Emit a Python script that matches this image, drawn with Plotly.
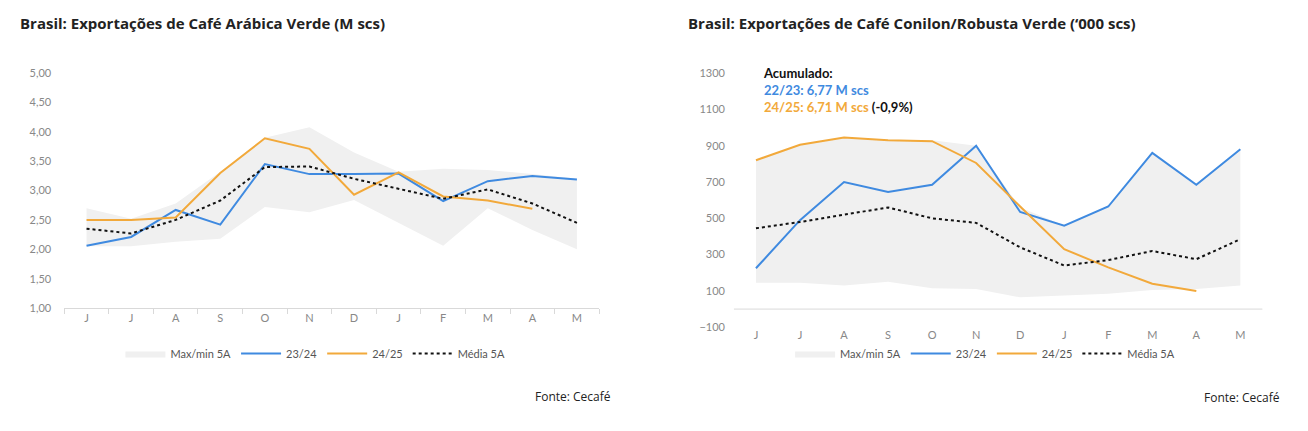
import plotly.graph_objects as go

months = ["J", "J ", "A", "S", "O", "N", "D", "J  ", "F", "M", "A ", "M "]
month_labels = ["J", "J", "A", "S", "O", "N", "D", "J", "F", "M", "A", "M"]

ara_max = [2.70, 2.52, 2.78, 3.32, 3.90, 4.08, 3.65, 3.32, 3.37, 3.35, 3.28, 3.20]
ara_min = [2.05, 2.05, 2.13, 2.18, 2.72, 2.63, 2.84, 2.45, 2.06, 2.70, 2.33, 2.00]
ara_2324 = [2.06, 2.21, 2.67, 2.42, 3.45, 3.28, 3.28, 3.29, 2.82, 3.16, 3.25, 3.19]
ara_2425 = [2.50, 2.50, 2.54, 3.30, 3.89, 3.71, 2.93, 3.31, 2.90, 2.83, 2.69]
ara_media = [2.35, 2.27, 2.50, 2.83, 3.40, 3.41, 3.20, 3.03, 2.86, 3.02, 2.78, 2.45]

rob_max = [820, 905, 945, 930, 930, 900, 560, 460, 565, 865, 690, 880]
rob_min = [145, 145, 130, 150, 115, 110, 65, 75, 85, 105, 110, 130]
rob_2324 = [225, 490, 700, 645, 685, 900, 535, 460, 565, 860, 685, 880]
rob_2425 = [820, 905, 945, 930, 925, 805, 565, 330, 230, 140, 100]
rob_media = [445, 480, 520, 560, 500, 475, 340, 240, 270, 320, 275, 385]

BLUE = "#3F8AE0"
ORANGE = "#F2A93B"
GRAY = "#F0F0F0"
TICK = "#888888"

fig = go.Figure()

def add_chart(xa, ya, leg, mx, mn, s1, s2, med):
    fig.add_trace(go.Scatter(x=months, y=mn, xaxis=xa, yaxis=ya, mode="lines",
                             line=dict(width=0), showlegend=False, hoverinfo="skip"))
    fig.add_trace(go.Scatter(x=months, y=mx, xaxis=xa, yaxis=ya, mode="lines",
                             line=dict(width=0), fill="tonexty", fillcolor=GRAY,
                             name="Max/min 5A", legend=leg))
    fig.add_trace(go.Scatter(x=months, y=s1, xaxis=xa, yaxis=ya, mode="lines",
                             line=dict(color=BLUE, width=2), name="23/24", legend=leg))
    fig.add_trace(go.Scatter(x=months[:len(s2)], y=s2, xaxis=xa, yaxis=ya, mode="lines",
                             line=dict(color=ORANGE, width=2), name="24/25", legend=leg))
    fig.add_trace(go.Scatter(x=months, y=med, xaxis=xa, yaxis=ya, mode="lines",
                             line=dict(color="#111111", width=2, dash="dot"),
                             name="Média 5A", legend=leg))

add_chart("x", "y", "legend", ara_max, ara_min, ara_2324, ara_2425, ara_media)
add_chart("x2", "y2", "legend2", rob_max, rob_min, rob_2324, rob_2425, rob_media)

tickfont = dict(family="Lato, Open Sans", size=11, color=TICK)
legfont = dict(family="Lato, Open Sans", size=11, color="#555555")

fig.update_layout(
    width=1308, height=431, margin=dict(l=0, r=0, t=0, b=0),
    paper_bgcolor="white", plot_bgcolor="white",
    xaxis=dict(domain=[0.043, 0.452], anchor="y", tickvals=months, ticktext=month_labels,
               showline=True, linecolor="#D9D9D9", ticks="outside", tickson="boundaries",
               tickcolor="#D9D9D9", ticklen=5, showgrid=False, tickfont=tickfont,
               range=[-0.5, 11.5]),
    yaxis=dict(domain=[0.299, 0.861], anchor="x", range=[1, 5], dtick=0.5,
               tickformat=".2f", showgrid=False, zeroline=False, tickfont=tickfont,
               ticklabelstandoff=12),
    xaxis2=dict(domain=[0.555, 0.959], anchor="y2", tickvals=months, ticktext=month_labels,
                showline=False, showgrid=False, tickfont=tickfont, range=[-0.5, 11.5]),
    yaxis2=dict(domain=[0.253, 0.861], anchor="x2", range=[-100, 1300], dtick=200,
                tick0=-100, showgrid=False, zeroline=False, tickfont=tickfont,
                ticklabelstandoff=8),
    separators=",.",
    legend=dict(orientation="h", x=0.235, xanchor="center", y=0.19, yanchor="middle",
                font=legfont, itemwidth=40, traceorder="normal"),
    legend2=dict(orientation="h", x=0.747, xanchor="center", y=0.19, yanchor="middle",
                 font=legfont, itemwidth=40, traceorder="normal"),
    shapes=[dict(type="line", xref="x2 domain", yref="y2", x0=0, x1=1, y0=0, y1=0,
                 line=dict(color="#D9D9D9", width=1))],
)

titlefont = dict(family="Open Sans", size=15, color="#222222")
fig.add_annotation(text="<b>Brasil: Exportações de Café Arábica Verde (M scs)</b>",
                   xref="paper", yref="paper", x=10/1308, y=1-8/431, xanchor="left",
                   yanchor="middle", showarrow=False, font=titlefont)
fig.add_annotation(text="<b>Brasil: Exportações de Café Conilon/Robusta Verde (‘000 scs)</b>",
                   xref="paper", yref="paper", x=678/1308, y=1-8/431, xanchor="left",
                   yanchor="middle", showarrow=False, font=titlefont)
fig.add_annotation(text="Fonte: Cecafé", xref="paper", yref="paper", x=605/1308, y=1-393/431,
                   xanchor="right", yanchor="middle", showarrow=False,
                   font=dict(family="Open Sans", size=12, color="#222222"))
fig.add_annotation(text="Fonte: Cecafé", xref="paper", yref="paper", x=1274/1308, y=1-394/431,
                   xanchor="right", yanchor="middle", showarrow=False,
                   font=dict(family="Open Sans", size=12, color="#222222"))
fig.add_annotation(
    text=("<b>Acumulado:</b><br>"
          f"<b><span style='color:{BLUE}'>22/23: 6,77 M scs</span></b><br>"
          f"<b><span style='color:{ORANGE}'>24/25: 6,71 M scs</span> (-0,9%)</b>"),
    xref="paper", yref="paper", x=753/1308, y=1-50/431, xanchor="left", yanchor="top",
    align="left", showarrow=False,
    font=dict(family="Lato, Open Sans", size=13, color="#111111"))

fig.write_html("out.html")
